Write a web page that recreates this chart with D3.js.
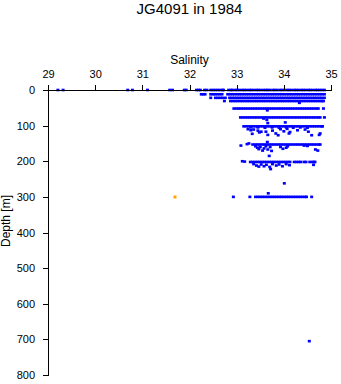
<!DOCTYPE html>
<html>
<head>
<meta charset="utf-8">
<script src="https://cdn.jsdelivr.net/npm/d3@7/dist/d3.min.js"></script>
<style>
  body { margin: 0; background: #fff; }
  text { font-family: "Liberation Sans", Arial, Helvetica, sans-serif; fill: #000; }
</style>
</head>
<body>
<script>
// Tick labels
const salinityTicks = [29, 30, 31, 32, 33, 34, 35];
const depthTicks = [0, 100, 200, 300, 400, 500, 600, 700, 800];

// Salinity readings along each sampling depth (m)
const sal0 = [29.21, 29.32, 30.69, 30.79, 31.11, 31.58, 31.64, 31.89, 31.93, 32.15, 32.19, 32.23, 32.32, 32.37,
  32.45, 32.50, 32.55, 32.60, 32.65, 32.70, 32.72, 32.83, 32.88, 32.91, 32.97, 33.01, 33.06, 33.12, 33.16, 33.21,
  33.27, 33.31, 33.36, 33.42, 33.46, 33.51, 33.57, 33.62, 33.66, 33.71, 33.77, 33.81, 33.86, 33.92, 33.96, 34.01,
  34.07, 34.11, 34.16, 34.22, 34.26, 34.31, 34.37, 34.41, 34.46, 34.52, 34.56, 34.61, 34.67, 34.71, 34.76, 34.81, 34.86];
const sal12 = [32.25, 32.29, 32.33, 32.45, 32.50, 32.54, 32.59, 32.64, 32.69, 32.81, 32.86, 32.91, 32.96, 33.01,
  33.06, 33.11, 33.16, 33.21, 33.26, 33.31, 33.36, 33.41, 33.46, 33.51, 33.56, 33.61, 33.66, 33.71, 33.76, 33.81,
  33.86, 33.91, 33.96, 34.01, 34.06, 34.11, 34.16, 34.21, 34.26, 34.31, 34.36, 34.41, 34.46, 34.51, 34.56, 34.61,
  34.66, 34.71, 34.76, 34.81, 34.86];
const sal22 = [32.45, 32.55, 32.60, 32.65, 32.70, 32.76, 32.85, 32.90, 32.95, 33.00, 33.05, 33.10, 33.15, 33.20,
  33.25, 33.30, 33.35, 33.40, 33.45, 33.50, 33.55, 33.60, 33.65, 33.70, 33.75, 33.80, 33.85, 33.90, 33.95, 34.00,
  34.05, 34.10, 34.15, 34.20, 34.25, 34.30, 34.35, 34.40, 34.45, 34.50, 34.55, 34.60, 34.65, 34.70, 34.75, 34.80, 34.86];
const sal31 = [32.74, 32.87, 32.92, 32.97, 33.02, 33.07, 33.12, 33.17, 33.22, 33.27, 33.32, 33.37, 33.42, 33.47,
  33.52, 33.57, 33.62, 33.67, 33.72, 33.77, 33.82, 33.87, 33.92, 33.97, 34.02, 34.07, 34.12, 34.17, 34.22, 34.27,
  34.32, 34.37, 34.42, 34.47, 34.52, 34.57, 34.62, 34.67, 34.72, 34.77, 34.81, 34.84];
const sal52 = [32.94, 32.99, 33.04, 33.09, 33.14, 33.19, 33.24, 33.29, 33.34, 33.39, 33.44, 33.49, 33.54, 33.59,
  33.64, 33.69, 33.74, 33.79, 33.84, 33.89, 33.94, 33.99, 34.04, 34.09, 34.14, 34.19, 34.24, 34.29, 34.34, 34.39,
  34.44, 34.49, 34.54, 34.59, 34.64, 34.69, 34.73, 34.84];
const sal77 = [33.08, 33.13, 33.18, 33.23, 33.28, 33.33, 33.38, 33.43, 33.48, 33.53, 33.58, 33.63, 33.68, 33.73,
  33.78, 33.83, 33.88, 33.93, 33.98, 34.03, 34.08, 34.13, 34.18, 34.23, 34.28, 34.33, 34.38, 34.43, 34.48, 34.53,
  34.58, 34.63, 34.68, 34.73, 34.77, 34.86];
const sal102 = [33.15, 33.20, 33.25, 33.30, 33.35, 33.40, 33.45, 33.50, 33.55, 33.60, 33.65, 33.70, 33.75, 33.80,
  33.85, 33.90, 33.95, 34.00, 34.05, 34.10, 34.15, 34.20, 34.25, 34.30, 34.35, 34.40, 34.45, 34.50, 34.55, 34.60,
  34.65, 34.70, 34.75, 34.80, 34.82];
const sal153 = [33.34, 33.39, 33.44, 33.49, 33.54, 33.59, 33.64, 33.69, 33.74, 33.79, 33.84, 33.89, 33.94, 33.99,
  34.04, 34.09, 34.14, 34.19, 34.24, 34.29, 34.34, 34.39, 34.44, 34.49, 34.54, 34.59, 34.64, 34.69, 34.74, 34.77];
const sal202 = [33.29, 33.34, 33.39, 33.44, 33.49, 33.54, 33.59, 33.64, 33.69, 33.74, 33.79, 33.84, 33.89, 33.94,
  33.99, 34.04, 34.09, 34.13, 34.22, 34.27, 34.32, 34.36, 34.43, 34.47, 34.55, 34.60, 34.64, 34.66];
const sal300 = [32.93, 33.28, 33.40, 33.45, 33.50, 33.55, 33.60, 33.65, 33.70, 33.75, 33.80, 33.85, 33.90, 33.95,
  34.00, 34.05, 34.10, 34.15, 34.20, 34.25, 34.30, 34.35, 34.40, 34.45, 34.48, 34.59];

const levelDepths = [0, 12, 22, 31, 52, 77, 102, 153, 202, 300];
const levelSalinity = [sal0, sal12, sal22, sal31, sal52, sal77, sal102, sal153, sal202, sal300];

// Individual readings between and below the sampling depths
const extraSalinity = [34.33, 33.65, 33.57, 33.64, 34.03, 33.66,
  33.30, 33.45, 33.60, 33.75, 33.90, 34.05, 34.20, 34.35, 34.50,
  33.24, 33.30, 33.36, 33.33, 33.45, 33.52, 33.48, 33.62, 33.66, 33.76, 33.83, 33.88, 33.93, 34.00, 34.07,
  34.11, 34.13, 34.29, 34.45, 34.52, 34.59, 34.77, 34.75,
  33.09, 33.22, 33.26, 33.65, 33.40, 33.44, 33.47, 33.50, 33.55, 33.58, 33.62, 33.66, 33.71, 33.74,
  33.93, 33.98, 34.05, 34.08, 34.43, 34.50, 34.67, 34.72, 33.69,
  33.12, 33.17, 33.36, 33.42, 33.47, 33.52, 33.58, 33.63, 33.70, 33.76, 33.84, 33.90, 33.97, 34.05, 34.12,
  34.63, 33.72, 34.01, 33.67, 34.54];
const extraDepth = [36, 57, 80, 84, 91, 93,
  105, 105, 106, 105, 106, 105, 106, 105, 106,
  110, 113, 111, 123, 114, 117, 119, 117, 126, 114, 122, 127, 110, 116, 109,
  122, 118, 113, 111, 117, 127, 122, 126,
  156, 152, 150, 146, 158, 162, 166, 160, 170, 164, 158, 167, 160, 171,
  160, 165, 162, 158, 156, 157, 167, 170, 185,
  200, 201, 208, 212, 215, 209, 214, 210, 216, 208, 212, 209, 214, 208, 211,
  210, 222, 262, 290, 705];

// The single flagged reading
const flaggedSalinity = [31.69];
const flaggedDepth = [300];

const W = 341, H = 384;
const svg = d3.select("body").append("svg").attr("width", W).attr("height", H);

const x = d3.scaleLinear().domain([29, 35]).range([48, 331]);
const y = d3.scaleLinear().domain([0, 800]).range([90, 375]);

const points = [];
levelDepths.forEach((d, i) => levelSalinity[i].forEach(s => points.push({ s, d })));
extraSalinity.forEach((s, i) => points.push({ s, d: extraDepth[i] }));

const mw = 3, mh = 2.6;
svg.append("g").selectAll("rect").data(points).join("rect")
  .attr("x", p => x(p.s) - mw / 2).attr("y", p => y(p.d) - mh / 2)
  .attr("width", mw).attr("height", mh)
  .attr("fill", "#0000ff");

svg.append("g").selectAll("rect").data(flaggedSalinity.map((s, i) => ({ s, d: flaggedDepth[i] }))).join("rect")
  .attr("x", p => Math.round(x(p.s)) - 1.5).attr("y", p => Math.round(y(p.d)) - 1.5)
  .attr("width", 3).attr("height", 3)
  .attr("fill", "#ffa500");

// Axes
const xAxis = svg.append("g").attr("transform", "translate(0,90)")
  .call(d3.axisTop(x).tickValues(salinityTicks).tickFormat(d3.format("d")).tickSize(5).tickPadding(7));
const yAxis = svg.append("g").attr("transform", "translate(48,0)")
  .call(d3.axisLeft(y).tickValues(depthTicks).tickFormat(d3.format("d")).tickSize(5).tickPadding(8));
[xAxis, yAxis].forEach(g => {
  g.selectAll("path, line").attr("stroke", "#000").attr("shape-rendering", "crispEdges");
  g.selectAll("text").style("font-size", "11px").attr("font-family", null);
});

svg.append("text").attr("x", 189.5).attr("y", 64).attr("text-anchor", "middle")
  .style("font-size", "12px").text("Salinity");
svg.append("text").attr("transform", "translate(10,221) rotate(-90)").attr("text-anchor", "middle")
  .style("font-size", "12px").text("Depth [m]");
svg.append("text").attr("x", 189.5).attr("y", 14).attr("text-anchor", "middle")
  .style("font-size", "15px").text("JG4091 in 1984");
</script>
</body>
</html>
